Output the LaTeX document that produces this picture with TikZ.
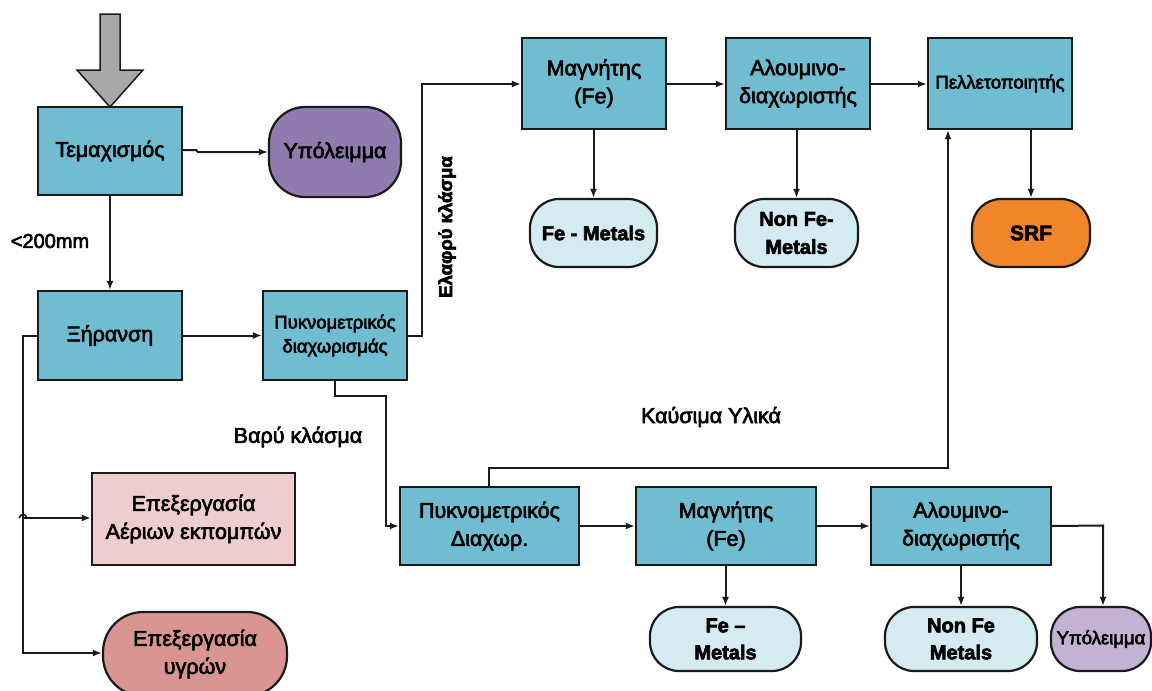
\documentclass[tikz,border=0pt]{standalone}
\usepackage{fontspec}
\setmainfont{Liberation Sans}
\usetikzlibrary{arrows.meta}

\definecolor{procfill}{HTML}{70BDD1}
\definecolor{restfill}{HTML}{8F7BAE}
\definecolor{restlight}{HTML}{C4B2D5}
\definecolor{metalfill}{HTML}{D4EBF1}
\definecolor{srffill}{HTML}{F0852A}
\definecolor{gasfill}{HTML}{EDCDCD}
\definecolor{liqfill}{HTML}{D9958F}
\definecolor{feedgray}{HTML}{A8A8A8}
\definecolor{linecol}{HTML}{1A1A1A}

\newcommand{\fsz}[2]{\fontsize{#1}{#2}\selectfont}
% slightly stroked glyphs for a heavier text colour
\newcommand{\inkon}{\special{pdf:literal direct 0.6 w 2 Tr}}
\newcommand{\inkoff}{\special{pdf:literal direct 0 Tr}}

\tikzset{
  ink/.style={execute at begin node=\inkon, execute at end node=\inkoff},
  base/.style={draw=linecol, line width=2.2pt, inner sep=0pt, align=center, text=black, ink},
  proc/.style={base, rectangle, fill=procfill},
  term/.style={base, rectangle, rounded corners=29pt},
  flow/.style={draw=linecol, line width=2pt, -{Latex[length=9pt,width=7pt]}},
  lbl/.style={inner sep=0pt, text=black, ink}
}

\begin{document}
\begin{tikzpicture}[x=1pt, y=-1pt]
\useasboundingbox (0,0) rectangle (1152,691);

% feed arrow
\draw[fill=feedgray, draw=linecol, line width=1.5pt]
  (100,14) -- (120,14) -- (120,70) -- (143,70) -- (110,107) -- (77,70) -- (100,70) -- cycle;

% upper line
\node[proc, minimum width=144pt, minimum height=88pt, font=\fsz{21.5}{26}] (tem) at (110,151) {Τεμαχισμός};
\node[term, rounded corners=36pt, fill=restfill, minimum width=132pt, minimum height=90pt, font=\fsz{21.5}{26}] (ypo1) at (335,152) {Υπόλειμμα};
\node[proc, minimum width=144pt, minimum height=89pt, font=\fsz{21.5}{26}] (xir) at (110,335.5) {Ξήρανση};
\node[proc, minimum width=144pt, minimum height=89pt, font=\fsz{18.5}{24}] (pyk1) at (335,335.5) {Πυκνομετρικός\\διαχωρισμάς};
\node[proc, minimum width=144pt, minimum height=91pt, font=\fsz{21.5}{28}] (mag1) at (594,83.5) {Μαγνήτης\\(Fe)};
\node[proc, minimum width=144pt, minimum height=91pt, font=\fsz{21.5}{28}] (alu1) at (798,83.5) {Αλουμινο-\\διαχωριστής};
\node[proc, minimum width=144pt, minimum height=91pt, font=\fsz{18.5}{24}] (pel) at (1000,83.5) {Πελλετοποιητής};
\node[term, fill=metalfill, minimum width=127pt, minimum height=68pt, font=\bfseries\fsz{20}{28}] (fem1) at (593.5,233) {Fe - Metals};
\node[term, fill=metalfill, minimum width=123pt, minimum height=68pt, font=\bfseries\fsz{20}{28}] (nfe1) at (796.5,233) {Non Fe-\\Metals};
\node[term, fill=srffill, minimum width=118pt, minimum height=68pt, font=\bfseries\fsz{21}{26}] (srf) at (1031,233) {SRF};

% lower line
\node[proc, minimum width=179pt, minimum height=78pt, font=\fsz{21.5}{28}] (pyk2) at (489.5,526) {Πυκνομετρικός\\Διαχωρ.};
\node[proc, minimum width=180pt, minimum height=78pt, font=\fsz{21.5}{28}] (mag2) at (726,526) {Μαγνήτης\\(Fe)};
\node[proc, minimum width=180pt, minimum height=78pt, font=\fsz{21.5}{28}] (alu2) at (961,526) {Αλουμινο-\\διαχωριστής};
\node[term, fill=metalfill, minimum width=151pt, minimum height=64pt, font=\bfseries\fsz{20}{27}] (fem2) at (725.5,639) {Fe –\\Metals};
\node[term, fill=metalfill, minimum width=152pt, minimum height=64pt, font=\bfseries\fsz{20}{27}] (nfe2) at (961,639) {Non Fe\\Metals};
\node[term, fill=restlight, minimum width=100pt, minimum height=64pt, font=\fsz{18.5}{24}] (ypo2) at (1101,639) {Υπόλειμμα};

% treatment of emissions
\node[base, rectangle, fill=gasfill, minimum width=203pt, minimum height=92pt, font=\fsz{21.5}{28}] (gas) at (193.5,519) {Επεξεργασία\\Αέριων εκπομπών};
\node[term, rounded corners=40pt, fill=liqfill, minimum width=184pt, minimum height=84pt, font=\fsz{21.5}{28}] (liq) at (195,654) {Επεξεργασία\\υγρών};

% labels
\node[lbl, font=\fsz{20}{24}] (lsize) at (50,241) {<200mm};
\node[lbl, font=\fsz{21.5}{26}] (lheavy) at (298,437) {Βαρύ κλάσμα};
\node[lbl, font=\fsz{21.5}{26}] (lfuel) at (711,417) {Καύσιμα Υλικά};
\node[lbl, font=\bfseries\fsz{18.5}{22}, rotate=90] (llight) at (447,227) {Ελαφρύ κλάσμα};

% junction points
\coordinate (j1) at (196,150);
\coordinate (j1b) at (198,152);
\coordinate (j2) at (422,335.5);
\coordinate (j3) at (422,84);
\coordinate (j4) at (335,396);
\coordinate (j5) at (386,396);
\coordinate (j6) at (386,526);
\coordinate (j7) at (489,468);
\coordinate (j8) at (948,468);
\coordinate (j9) at (1103,525.5);
\coordinate (j10) at (23,335.5);
\coordinate (j11) at (23,653);
\coordinate (j12) at (23,518);

% connectors
\draw[flow] (tem.east |- j1) -- (j1) -- (j1b) -- (ypo1.west |- j1b);
\draw[flow] (tem.south) -- (xir.north);
\draw[flow] (xir.east) -- (pyk1.west);
\draw[flow] (pyk1.east) -- (j2) -- (j3) -- (mag1.west |- j3);
\draw[flow] (mag1.east |- j3) -- (alu1.west |- j3);
\draw[flow] (alu1.east |- j3) -- (pel.west |- j3);
\draw[flow] (mag1.south -| fem1.north) -- (fem1.north);
\draw[flow] (alu1.south -| nfe1.north) -- (nfe1.north);
\draw[flow] (pel.south -| srf.north) -- (srf.north);

\draw[flow] (pyk1.south) -- (j4) -- (j5) -- (j6) -- (pyk2.west);
\draw[flow] (pyk2.east) -- (mag2.west);
\draw[flow] (mag2.east) -- (alu2.west);
\draw[flow] (pyk2.north -| j7) -- (j7) -- (j8) -- (pel.south -| j8);
\draw[flow] (mag2.south -| fem2.north) -- (fem2.north);
\draw[flow] (alu2.south) -- (nfe2.north);
\draw[flow] (alu2.east) -- (j9) -- (ypo2.north -| j9);

\draw[flow] (xir.west) -- (j10) -- (j11) -- (liq.west |- j11);
\draw[flow] (j12) -- (gas.west |- j12);
% small hop where the branch leaves the vertical line
\draw[draw=linecol, line width=1.5pt] ([xshift=-4pt]j12) .. controls ([xshift=-2pt,yshift=5pt]j12) and ([xshift=2pt,yshift=5pt]j12) .. ([xshift=4pt]j12);
\end{tikzpicture}
\end{document}
